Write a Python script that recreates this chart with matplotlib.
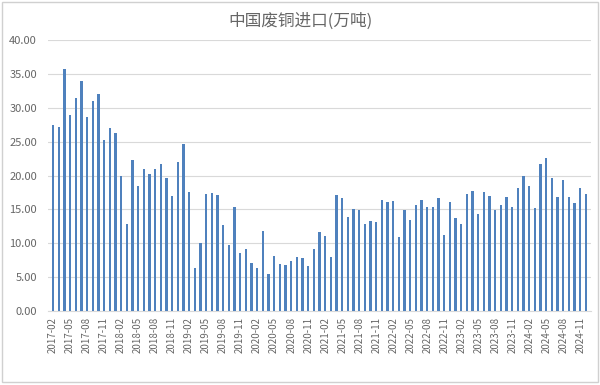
import matplotlib
matplotlib.use("Agg")
import matplotlib.pyplot as plt
from matplotlib.patches import Rectangle
import numpy as np

plt.rcParams['font.family'] = ['Noto Sans CJK SC', 'DejaVu Sans']

# monthly imports, 2017-02 .. 2024-12 (10k tonnes)
months = [f"{y}-{m:02d}" for y in range(2017, 2025) for m in range(1, 13)]
months = months[1:]  # starts at 2017-02

values = [
    27.5, 27.1, 35.7, 29.0, 31.4, 33.9, 28.7, 31.0, 32.1, 25.2, 27.0,   # 2017
    26.3, 19.9, 12.8, 22.3, 18.4, 21.0, 20.3, 21.0, 21.7, 19.6, 17.0, 22.0,  # 2018
    24.6, 17.6, 6.3, 10.1, 17.3, 17.4, 17.1, 12.7, 9.8, 15.4, 8.6, 9.2,  # 2019
    7.1, 6.3, 11.8, 5.4, 8.1, 6.9, 6.8, 7.4, 8.0, 7.9, 6.7, 9.2,  # 2020
    11.6, 11.1, 8.0, 17.1, 16.7, 13.9, 15.0, 14.9, 12.8, 13.3, 13.1, 16.4,  # 2021
    16.1, 16.2, 10.9, 14.9, 13.5, 15.7, 16.4, 15.4, 15.4, 16.7, 11.3, 16.1,  # 2022
    13.8, 12.8, 17.3, 17.7, 14.4, 17.6, 17.0, 14.9, 15.6, 16.9, 15.4, 18.2,  # 2023
    19.9, 18.5, 15.2, 21.7, 22.6, 19.7, 16.8, 19.4, 16.8, 15.9, 18.2, 17.3,  # 2024
]

months = months[:len(values)]
x = np.arange(len(values))

fig = plt.figure(figsize=(6, 3.85), dpi=100)
ax = fig.add_axes([0.08, 0.192, 0.905, 0.704])

ax.bar(x, values, width=0.38, color='#4F81BD', zorder=3)

ax.set_ylim(0, 40)
ax.set_yticks(np.arange(0, 45, 5))
ax.set_yticklabels([f"{v:.2f}" for v in np.arange(0, 45, 5)])
ax.set_xlim(-0.9, len(values) - 0.1)
ax.set_xticks(x[::3])
ax.set_xticklabels(months[::3], rotation=90)

ax.grid(axis='y', color='#D9D9D9', linewidth=0.8, zorder=0)
for s in ['top', 'right', 'left']:
    ax.spines[s].set_visible(False)
ax.spines['bottom'].set_color('#D9D9D9')
ax.tick_params(axis='y', length=0, labelsize=8, labelcolor='#666666', pad=8)
ax.tick_params(axis='x', length=0, labelsize=7, labelcolor='#666666', pad=4)

fig.text(0.5, 0.945, "中国废铜进口(万吨)", ha='center', va='center',
         fontsize=12, color='#666666')

fig.patches.append(Rectangle((0.003, 0.008), 0.994, 0.988, transform=fig.transFigure,
                             fill=False, edgecolor='#D0D0D0', linewidth=1))

fig.savefig("out.png", dpi=100)
